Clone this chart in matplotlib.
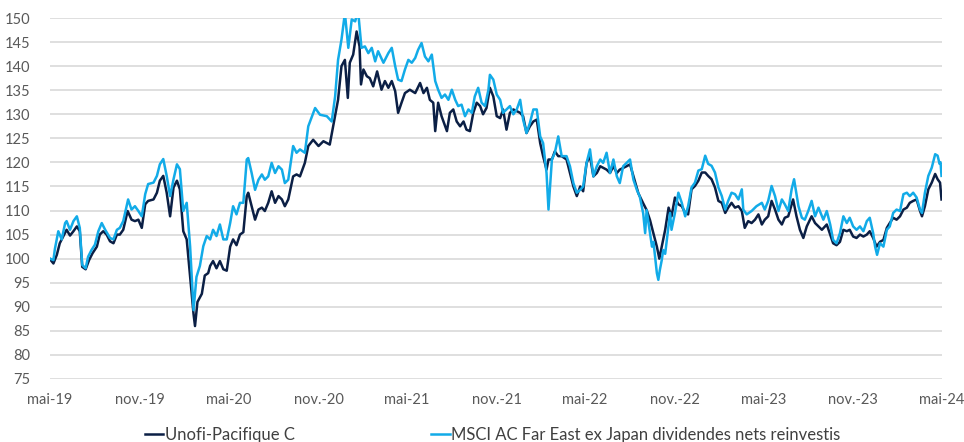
import matplotlib
matplotlib.use("Agg")
import matplotlib.pyplot as plt
import pandas as pd

plt.rcParams['font.family'] = ['Lato', 'DejaVu Sans']

start = pd.Timestamp('2019-05-01')

# days since 01/05/2019 and base-100 values
fund_days = [0, 7, 14, 20, 27, 34, 41, 48, 55, 61, 66, 73, 80, 87, 96, 102, 109, 116, 123, 130,
             137, 143, 150, 159, 167, 174, 181, 188, 195, 201, 212, 219, 225, 232, 239, 246, 253, 260, 266, 273,
             280, 287, 294, 297, 302, 311, 317, 324, 328, 334, 341, 348, 355, 362, 369, 375, 382, 389, 396, 403,
             406, 413, 420, 427, 434, 440, 447, 454, 461, 468, 475, 481, 488, 498, 505, 512, 522, 529, 539, 550,
             560, 573, 580, 590, 597, 604, 610, 614, 621, 628, 634, 637, 642, 649, 655, 662, 670, 679, 686, 693,
             700, 707, 713, 720, 727, 737, 748, 758, 765, 772, 778, 785, 789, 795, 802, 813, 819, 826, 833, 840,
             847, 853, 860, 867, 874, 881, 887, 894, 901, 908, 915, 922, 928, 935, 942, 949, 963, 969, 976, 983,
             990, 997, 1004, 1010, 1017, 1021, 1028, 1034, 1041, 1048, 1058, 1065, 1072, 1079, 1086, 1092, 1099, 1106, 1113, 1120,
             1127, 1140, 1147, 1154, 1161, 1167, 1181, 1188, 1195, 1205, 1215, 1222, 1229, 1234, 1243, 1248, 1253, 1260, 1267, 1273,
             1280, 1287, 1294, 1301, 1307, 1314, 1321, 1328, 1335, 1342, 1348, 1355, 1362, 1369, 1376, 1383, 1389, 1396, 1403, 1410,
             1417, 1423, 1430, 1437, 1444, 1451, 1458, 1464, 1471, 1478, 1485, 1492, 1499, 1505, 1512, 1522, 1529, 1536, 1543, 1550,
             1560, 1567, 1574, 1581, 1591, 1598, 1604, 1611, 1618, 1625, 1632, 1638, 1645, 1652, 1659, 1666, 1673, 1679, 1686, 1693,
             1700, 1707, 1714, 1720, 1727, 1734, 1741, 1748, 1755, 1761, 1768, 1775, 1782, 1786, 1792, 1799, 1806, 1813, 1818, 1823,
             1826]
fund = [99.9, 99.0, 100.8, 103.2, 104.6, 106.0, 104.8, 105.7, 106.7, 105.7, 98.3, 97.8, 99.7, 101.1, 102.5, 105.0, 105.7, 105.0, 103.6, 103.2,
        105.0, 105.0, 106.0, 109.9, 108.1, 107.8, 108.1, 106.4, 111.3, 112.0, 112.3, 113.7, 116.2, 117.2, 113.7, 108.8, 114.8, 116.2, 114.4, 105.7,
        104.0, 96.2, 88.5, 86.0, 91.0, 92.7, 96.5, 97.0, 98.5, 99.5, 98.0, 99.5, 97.8, 97.5, 102.5, 104.0, 102.8, 105.0, 105.5, 113.0,
        113.7, 110.9, 108.1, 110.2, 110.6, 109.9, 111.6, 114.0, 111.6, 113.0, 112.3, 110.9, 112.3, 117.1, 117.5, 117.1, 119.9, 123.4, 124.7, 123.4,
        124.4, 123.7, 127.5, 133.0, 140.0, 141.3, 133.4, 140.7, 142.4, 147.2, 144.1, 136.2, 139.3, 137.9, 137.5, 135.8, 138.9, 135.1, 136.9, 135.5,
        136.9, 134.8, 130.3, 132.4, 134.4, 135.1, 134.4, 136.5, 134.4, 135.5, 133.0, 132.4, 126.5, 132.4, 129.6, 126.5, 130.3, 131.0, 128.5, 127.5,
        128.5, 126.8, 126.5, 130.3, 132.4, 131.7, 130.0, 131.3, 135.5, 133.7, 129.6, 129.2, 131.0, 126.8, 130.3, 131.0, 130.3, 129.6, 126.1, 127.5,
        128.5, 128.9, 124.0, 121.3, 118.5, 120.6, 120.6, 122.3, 121.3, 121.3, 120.6, 117.8, 115.0, 113.0, 115.0, 114.0, 119.9, 121.3, 117.1, 117.8,
        119.2, 118.5, 117.8, 119.2, 117.8, 118.5, 119.2, 119.6, 117.1, 113.6, 111.5, 110.1, 108.0, 106.0, 102.5, 100.0, 102.5, 106.0, 110.6, 108.8,
        112.7, 111.3, 110.9, 109.5, 109.2, 114.4, 115.1, 116.2, 117.9, 117.9, 117.2, 116.5, 114.8, 112.0, 111.6, 109.5, 110.6, 111.6, 110.6, 110.9,
        109.9, 106.4, 107.8, 107.4, 108.1, 109.2, 107.1, 108.1, 108.8, 112.0, 110.2, 108.1, 107.1, 108.5, 108.8, 112.3, 108.8, 106.0, 104.3, 106.7,
        108.8, 107.4, 106.7, 106.0, 107.1, 105.0, 103.2, 102.8, 103.5, 106.0, 105.7, 106.0, 104.6, 104.3, 105.0, 104.6, 105.0, 105.7, 104.3, 102.5,
        103.5, 103.9, 106.4, 107.4, 108.5, 108.1, 108.8, 110.2, 110.6, 111.6, 112.0, 112.3, 109.9, 108.8, 110.9, 114.4, 115.8, 117.6, 116.5, 115.8,
        112.3]

index_days = [0, 7, 10, 17, 24, 31, 34, 41, 48, 55, 61, 66, 73, 78, 85, 92, 99, 106, 113, 123,
              130, 137, 143, 150, 160, 167, 174, 181, 188, 195, 201, 212, 219, 225, 232, 239, 246, 253, 260, 266,
              273, 280, 287, 294, 300, 307, 314, 321, 328, 334, 341, 348, 355, 362, 369, 375, 382, 389, 396, 403,
              406, 413, 420, 427, 434, 440, 447, 454, 461, 468, 475, 481, 488, 498, 505, 512, 522, 529, 543, 553,
              567, 577, 584, 590, 597, 604, 611, 618, 625, 631, 638, 645, 652, 659, 666, 672, 683, 693, 700, 707,
              713, 720, 727, 734, 741, 748, 754, 761, 768, 775, 782, 789, 795, 802, 809, 816, 823, 830, 836, 843,
              850, 857, 864, 870, 877, 884, 891, 898, 901, 908, 915, 922, 928, 935, 942, 949, 956, 963, 969, 976,
              983, 990, 997, 1004, 1010, 1017, 1021, 1028, 1034, 1041, 1048, 1058, 1065, 1072, 1079, 1086, 1092, 1099, 1106, 1113,
              1120, 1127, 1133, 1140, 1147, 1154, 1161, 1167, 1174, 1188, 1195, 1202, 1208, 1215, 1219, 1222, 1229, 1233, 1236, 1243,
              1246, 1249, 1253, 1256, 1260, 1270, 1273, 1280, 1287, 1294, 1301, 1307, 1314, 1321, 1328, 1335, 1342, 1348, 1355, 1362,
              1369, 1376, 1383, 1389, 1396, 1403, 1410, 1417, 1420, 1427, 1437, 1447, 1458, 1464, 1471, 1478, 1485, 1492, 1499, 1505,
              1512, 1519, 1524, 1533, 1540, 1546, 1553, 1560, 1567, 1574, 1584, 1591, 1598, 1604, 1611, 1618, 1625, 1632, 1638, 1645,
              1652, 1659, 1666, 1673, 1679, 1686, 1690, 1694, 1700, 1707, 1714, 1720, 1727, 1734, 1741, 1748, 1755, 1761, 1768, 1775,
              1782, 1786, 1792, 1799, 1806, 1813, 1818, 1822, 1824, 1826]
index = [100.0, 99.7, 102.0, 105.7, 104.0, 107.4, 107.8, 106.0, 107.8, 108.8, 106.4, 98.7, 98.0, 100.4, 101.8, 102.9, 105.7, 107.4, 106.0, 104.3,
         104.0, 106.0, 106.4, 107.8, 112.3, 110.2, 110.9, 109.9, 108.8, 113.4, 115.5, 115.8, 117.2, 119.6, 120.7, 117.2, 113.0, 116.5, 119.6, 118.6,
         109.9, 111.6, 102.5, 89.3, 96.2, 98.5, 102.6, 104.7, 104.0, 106.0, 104.7, 107.1, 104.0, 104.0, 107.4, 110.9, 109.2, 111.6, 111.6, 120.6,
         120.9, 117.8, 114.3, 116.4, 117.5, 116.4, 117.1, 119.9, 117.8, 119.2, 118.5, 115.7, 116.4, 123.4, 122.0, 122.7, 122.0, 127.5, 131.3, 129.9,
         129.6, 128.5, 133.7, 141.3, 145.5, 151.0, 143.8, 149.7, 149.3, 151.5, 143.8, 144.1, 142.7, 143.8, 141.0, 143.1, 140.7, 142.7, 143.8, 140.0,
         137.2, 136.9, 139.3, 141.3, 140.7, 141.7, 143.4, 144.8, 142.0, 141.0, 142.4, 136.9, 135.1, 133.4, 134.1, 133.0, 135.1, 133.0, 131.7, 132.0,
         129.6, 131.0, 130.3, 133.7, 135.5, 132.4, 131.7, 135.1, 138.2, 137.2, 134.1, 133.0, 130.3, 131.0, 131.7, 130.0, 131.0, 133.0, 128.9, 126.1,
         128.2, 131.0, 131.0, 125.4, 124.0, 117.8, 110.2, 120.6, 122.0, 125.4, 121.3, 121.3, 119.2, 115.7, 113.7, 114.3, 115.0, 119.9, 122.7, 117.1,
         119.2, 120.6, 119.9, 122.0, 117.8, 120.6, 117.1, 115.7, 119.2, 120.6, 116.4, 114.3, 112.9, 109.4, 105.3, 110.1, 105.3, 102.5, 103.5, 97.0,
         95.6, 97.6, 99.7, 101.8, 101.0, 109.5, 106.0, 109.5, 113.7, 111.6, 108.8, 110.9, 114.8, 115.8, 118.3, 118.6, 121.4, 119.7, 119.3, 117.9,
         114.8, 113.0, 110.2, 112.0, 113.7, 113.4, 112.3, 114.4, 110.2, 109.2, 109.9, 110.9, 111.6, 110.2, 112.0, 115.1, 113.0, 109.9, 112.3, 111.3,
         109.9, 114.4, 116.5, 110.9, 108.5, 108.1, 109.9, 112.0, 108.8, 110.6, 108.1, 109.9, 107.1, 103.9, 103.2, 105.3, 108.8, 107.4, 108.5, 106.7,
         106.0, 106.7, 105.7, 107.8, 108.5, 105.3, 102.5, 100.8, 103.2, 102.5, 106.0, 106.7, 109.5, 110.2, 109.9, 113.4, 113.7, 113.0, 113.7, 112.7,
         110.2, 109.5, 113.7, 117.2, 118.9, 121.7, 121.4, 119.7, 120.0, 117.2]

tick_dates = ['2019-05-01', '2019-11-01', '2020-05-01', '2020-11-01', '2021-05-01', '2021-11-01',
              '2022-05-01', '2022-11-01', '2023-05-01', '2023-11-01', '2024-05-01']
tick_labels = ['mai-19', 'nov.-19', 'mai-20', 'nov.-20', 'mai-21', 'nov.-21',
               'mai-22', 'nov.-22', 'mai-23', 'nov.-23', 'mai-24']
y_ticks = list(range(75, 151, 5))

fund_x = start + pd.to_timedelta(fund_days, unit='D')
index_x = start + pd.to_timedelta(index_days, unit='D')

fig = plt.figure(figsize=(9.64, 4.42), dpi=100)
ax = fig.add_axes([50/964, 1-379/442, 892/964, 361/442])

ax.plot(fund_x, fund, color='#0b1f45', linewidth=1.8, label='Unofi-Pacifique C', zorder=3)
ax.plot(index_x, index, color='#12abe8', linewidth=1.8,
        label='MSCI AC Far East ex Japan dividendes nets reinvestis', zorder=4)

ax.set_ylim(75, 150)
ax.set_xlim(pd.Timestamp(tick_dates[0]), pd.Timestamp(tick_dates[-1]))
ax.set_yticks(y_ticks)
ax.set_xticks(pd.to_datetime(tick_dates))
ax.set_xticklabels(tick_labels)
ax.tick_params(axis='both', length=0, labelsize=10.5, labelcolor='#595959')
ax.tick_params(axis='y', pad=14)
ax.tick_params(axis='x', pad=10)
ax.grid(axis='y', color='#d9d9d9', linewidth=1.2)
ax.set_axisbelow(True)
for s in ax.spines.values():
    s.set_visible(False)

fig.legend(loc='center', bbox_to_anchor=(0.511, 1-435/442), ncol=2, frameon=False,
           fontsize=12, labelcolor='#404040', handlelength=1.1, handletextpad=0.1,
           columnspacing=8.2)

fig.savefig('out.png', dpi=100)
